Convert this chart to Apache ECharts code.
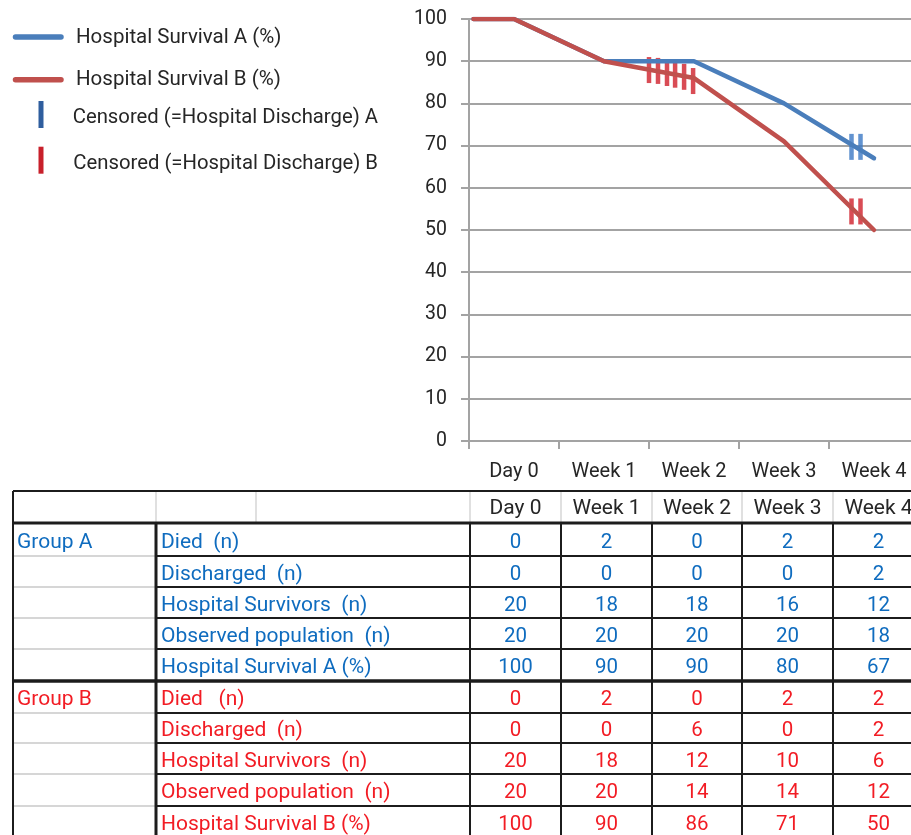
<!DOCTYPE html>
<html>
<head>
<meta charset="utf-8">
<script src="https://cdn.jsdelivr.net/npm/echarts@6/dist/echarts.min.js"></script>
<style>
html,body{margin:0;padding:0;background:#fff;}
#c{width:911px;height:835px;}
</style>
</head>
<body>
<div id="c"></div>
<script>
// ---------------- data ----------------
const categories = ['Day 0', 'Week 1', 'Week 2', 'Week 3', 'Week 4'];

const diedA       = [0, 2, 0, 2, 2];
const dischargedA = [0, 0, 0, 0, 2];
const survivorsA  = [20, 18, 18, 16, 12];
const observedA   = [20, 20, 20, 20, 18];
const survivalA   = [100, 90, 90, 80, 67];

const diedB       = [0, 2, 0, 2, 2];
const dischargedB = [0, 0, 6, 0, 2];
const survivorsB  = [20, 18, 12, 10, 6];
const observedB   = [20, 20, 14, 14, 12];
const survivalB   = [100, 90, 86, 71, 50];

// time zero of the curves, in category units on the hidden value axis
const curveStart = 0.05;

// censor ticks [position in category units, survival %]
const censoredA = [[4.25, 69.7], [4.35, 69.7]];
const censoredB = [[2.00, 87.9], [2.10, 87.7], [2.20, 87.2], [2.29, 86.8], [2.39, 86.3], [2.49, 85.3],
                   [4.25, 54.4], [4.35, 54.4]];

const seriesNames = ['Hospital Survival A (%)', 'Hospital Survival B (%)',
                     'Censored (=Hospital Discharge) A', 'Censored (=Hospital Discharge) B'];

const groupNames  = ['Group A', 'Group B'];
const rowLabelsA  = ['Died  (n)', 'Discharged  (n)', 'Hospital Survivors  (n)', 'Observed population  (n)', 'Hospital Survival A (%)'];
const rowLabelsB  = ['Died   (n)', 'Discharged  (n)', 'Hospital Survivors  (n)', 'Observed population  (n)', 'Hospital Survival B (%)'];

// ---------------- styling ----------------
const FONT = 'Roboto';
const blueLine = '#4a7ebb', redLine = '#c0504d';
const blueMark = '#3b78c4', redMark = '#cf1f2b';
const blueLeg = '#2f5e9e', redLeg = '#c8202b';
const blueText = '#0f6cbf', redText = '#f21c24';
const gridGray = '#a3a3a3', txt = '#262626';
const dark = '#1c1c1c', light = '#d6d6d6';

function curve(vals) {
  return [[curveStart, vals[0]]].concat(vals.map((v, i) => [i + 0.5, v]));
}

// ---------------- table (graphic) ----------------
const colX = [13, 156, 470, 561, 652, 742, 833, 924];
const headerLightX = [156, 256, 470, 561, 652, 742, 833];
const rowY = [491, 523, 556, 587, 618, 649, 681, 713, 743, 774, 806, 837];
const W = 911, H = 835;

const G = [];
function ln(x1, y1, x2, y2, color, w) {
  G.push({ type: 'line', silent: true, shape: { x1, y1, x2, y2 }, style: { stroke: color, lineWidth: w } });
}
function tx(x, y, text, color, size, align) {
  G.push({ type: 'text', silent: true, x, y,
    style: { text, fill: color, fontSize: size, fontFamily: FONT, align: align || 'left', verticalAlign: 'middle' } });
}

// light lines first
headerLightX.forEach(x => ln(x, rowY[0], x, rowY[1], light, 1.5));
for (let r = 2; r < rowY.length - 1; r++) {
  if (r === 6) continue;
  ln(colX[0], rowY[r], colX[1], rowY[r], light, 2);
}
// dark lines
ln(colX[0], rowY[0], W, rowY[0], dark, 2);
ln(colX[0], rowY[1], W, rowY[1], dark, 3);
ln(colX[0], rowY[6], W, rowY[6], dark, 3.5);
for (let r = 2; r < rowY.length - 1; r++) {
  if (r === 6) continue;
  ln(colX[1], rowY[r], W, rowY[r], dark, 2);
}
ln(colX[0], rowY[0], colX[0], H, dark, 2);
ln(colX[1], rowY[1], colX[1], H, dark, 3);
for (let c = 2; c <= 6; c++) ln(colX[c], rowY[1], colX[c], H, dark, 2);

// header text
categories.forEach((c, i) => tx((colX[i + 2] + colX[i + 3]) / 2, (rowY[0] + rowY[1]) / 2 + 2, c, txt, 21, 'center'));

// body text
const groups = [
  { name: groupNames[0], labels: rowLabelsA, rows: [diedA, dischargedA, survivorsA, observedA, survivalA], color: blueText, r0: 1 },
  { name: groupNames[1], labels: rowLabelsB, rows: [diedB, dischargedB, survivorsB, observedB, survivalB], color: redText, r0: 6 }
];
groups.forEach(g => {
  tx(colX[0] + 4, (rowY[g.r0] + rowY[g.r0 + 1]) / 2 + 3, g.name, g.color, 21);
  g.rows.forEach((vals, k) => {
    const yc = (rowY[g.r0 + k] + rowY[g.r0 + k + 1]) / 2 + 3;
    tx(colX[1] + 5, yc, g.labels[k], g.color, 21);
    vals.forEach((v, i) => tx((colX[i + 2] + colX[i + 3]) / 2, yc, String(v), g.color, 20.5, 'center'));
  });
});

// ---------------- legend (graphic) ----------------
G.push({ type: 'line', silent: true, shape: { x1: 15.5, y1: 37, x2: 61, y2: 37 }, style: { stroke: blueLine, lineWidth: 5.5, lineCap: 'round' } });
G.push({ type: 'line', silent: true, shape: { x1: 15.5, y1: 79.7, x2: 61, y2: 79.7 }, style: { stroke: redLine, lineWidth: 5.5, lineCap: 'round' } });
G.push({ type: 'rect', silent: true, shape: { x: 38.5, y: 101, width: 5, height: 27 }, style: { fill: blueLeg } });
G.push({ type: 'rect', silent: true, shape: { x: 38.5, y: 146.7, width: 5, height: 27 }, style: { fill: redLeg } });
tx(76, 37.7, seriesNames[0], txt, 20.5);
tx(76, 80.2, seriesNames[1], txt, 20.5);
tx(72.7, 118, seriesNames[2], txt, 20.3);
tx(73.3, 164, seriesNames[3], txt, 20.3);

// ---------------- chart ----------------
const chart = echarts.init(document.getElementById('c'), null, { renderer: 'canvas' });
const axisLineStyle = { color: gridGray, width: 2 };
chart.setOption({
  backgroundColor: '#ffffff',
  animation: false,
  textStyle: { fontFamily: FONT },
  grid: { left: 469, top: 19, width: 450, height: 422, containLabel: false, outerBoundsMode: 'none' },
  xAxis: [
    {
      type: 'category', data: categories, boundaryGap: true,
      axisLine: { show: true, lineStyle: axisLineStyle },
      axisTick: { show: true, length: 8, lineStyle: axisLineStyle },
      axisLabel: { fontSize: 20, color: txt, margin: 21, fontFamily: FONT, interval: 0 },
      splitLine: { show: false }
    },
    { type: 'value', min: 0, max: 5, show: false }
  ],
  yAxis: {
    type: 'value', min: 0, max: 100, interval: 10,
    axisLine: { show: true, lineStyle: axisLineStyle },
    axisTick: { show: true, length: 8, lineStyle: axisLineStyle },
    axisLabel: { fontSize: 19.5, color: txt, margin: 22, fontFamily: FONT },
    splitLine: { show: true, lineStyle: { color: gridGray, width: 2 } }
  },
  series: [
    { name: seriesNames[2], type: 'scatter', xAxisIndex: 1, data: censoredA, symbol: 'rect', symbolSize: [4.5, 26],
      itemStyle: { color: blueMark }, z: 2 },
    { name: seriesNames[3], type: 'scatter', xAxisIndex: 1, data: censoredB, symbol: 'rect', symbolSize: [4.5, 26],
      itemStyle: { color: redMark }, z: 2 },
    { name: seriesNames[0], type: 'line', xAxisIndex: 1, data: curve(survivalA), symbol: 'none',
      lineStyle: { color: blueLine, width: 4.5, cap: 'round', join: 'round' }, z: 3 },
    { name: seriesNames[1], type: 'line', xAxisIndex: 1, data: curve(survivalB), symbol: 'none',
      lineStyle: { color: redLine, width: 4.5, cap: 'round', join: 'round' }, z: 4 }
  ],
  graphic: { elements: G }
});
</script>
</body>
</html>
